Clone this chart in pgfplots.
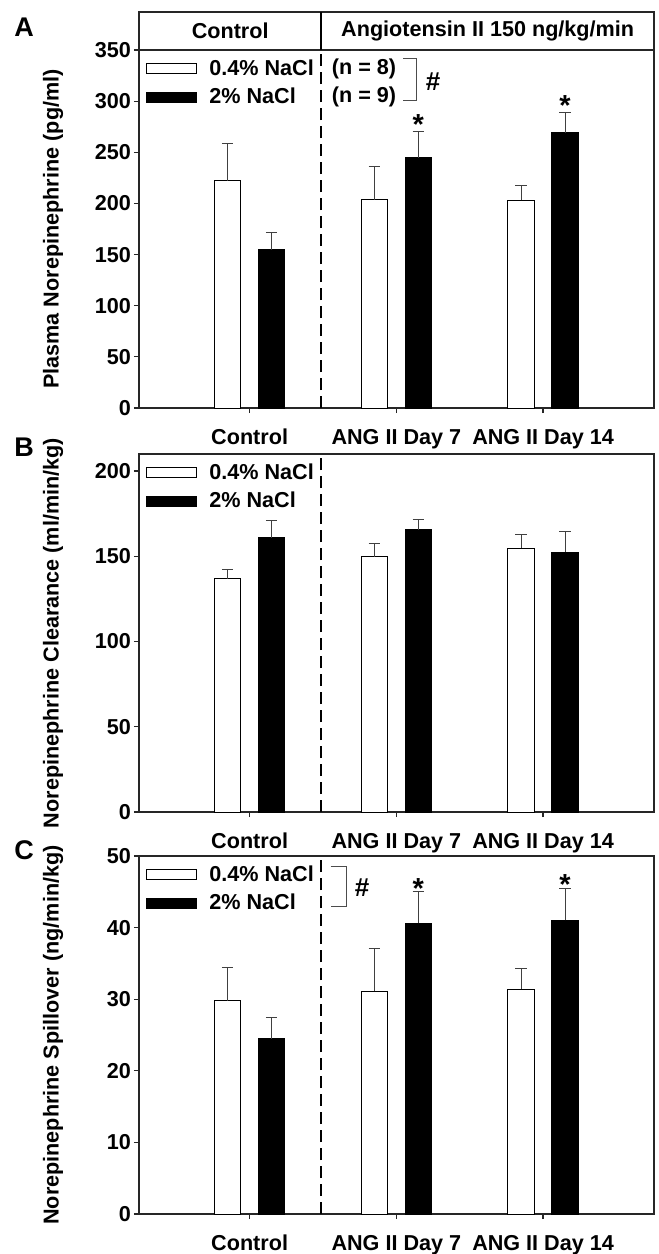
\documentclass[border=0pt]{standalone}
\usepackage{fontspec}
\setmainfont{Liberation Sans}
\usepackage{pgfplots}
\pgfplotsset{compat=1.18}

\newcommand\fs{\fontsize{10.8}{13}\selectfont\bfseries}

% bar centre, mean, SEM (categories at 0, 1, 2; white bars left, black bars right)
% Plasma norepinephrine (pg/ml)
\pgfplotstableread{
x y ey
-0.15 222   37
0.85  203.5 32.5
1.85  203   14.5
}\Awhite
\pgfplotstableread{
x y ey
0.15 154.6 17.4
1.15 244.6 25.4
2.15 269   20
}\Ablack
% Norepinephrine clearance (ml/min/kg)
\pgfplotstableread{
x y ey
-0.15 136.7 5.8
0.85  149.6 7.8
1.85  154.8 8
}\Bwhite
\pgfplotstableread{
x y ey
0.15 161   10
1.15 165.5 6.2
2.15 152.5 12.3
}\Bblack
% Norepinephrine spillover (ng/min/kg)
\pgfplotstableread{
x y ey
-0.15 29.8 4.6
0.85  31.1 6.0
1.85  31.4 2.9
}\Cwhite
\pgfplotstableread{
x y ey
0.15 24.5 2.9
1.15 40.6 4.4
2.15 41.0 4.5
}\Cblack

\tikzset{
  divider/.style={line width=1pt, dash pattern=on 6pt off 3pt},
  sigstar/.style={font=\fontsize{14.5}{16}\selectfont\bfseries, anchor=south, inner sep=0pt},
  hash/.style={font=\fontsize{13}{15}\selectfont\bfseries},
}

\pgfplotsset{
  panel/.style={
    scale only axis, width=257.5pt, height=179pt,
    xmin=-0.754, xmax=2.756, ymin=0,
    xtick={0,1,2},
    xticklabels={Control, ANG II Day 7, ANG II Day 14},
    tick align=outside, tick pos=left, major tick length=2.5pt,
    axis line style={black!85, line width=0.6pt},
    every tick/.style={black!85, line width=0.6pt},
    tick label style={font=\fs},
    /pgf/number format/assume math mode=true,
    xticklabel style={yshift=-4.5pt},
    yticklabel style={xshift=2pt},
    every axis y label/.style={at={(axis description cs:-0.167,0.5)}, rotate=90,
      anchor=center, font=\fs},
    legend style={draw=none, fill=none, at={(axis description cs:0.0136,0.975)},
      anchor=north west, font=\fs, inner sep=0pt, row sep=5pt,
      nodes={inner sep=0pt}},
    legend cell align=left,
    clip=false,
  },
  barbase/.style={ybar, bar width=0.18, bar shift=0pt, draw=black, line width=0.5pt,
    error bars/y dir=plus, error bars/y explicit,
    error bars/error bar style={black!75, line width=0.5pt},
    error bars/error mark options={black!75, mark size=2.85pt, line width=0.5pt, rotate=90}},
  whitebar/.style={barbase, fill=white,
    legend image code/.code={\draw[fill=white, draw=black, line width=0.5pt] (0pt,-2.5pt) rectangle (25pt,2.5pt); \path (31pt,0pt);}},
  blackbar/.style={barbase, fill=black,
    legend image code/.code={\draw[fill=black, draw=black, line width=0.5pt] (0pt,-2.5pt) rectangle (25pt,2.5pt); \path (31pt,0pt);}},
}

\begin{document}
\begin{tikzpicture}
\useasboundingbox (0,0) rectangle (329.5pt,-627pt);

% ---------- A ----------
\begin{axis}[panel, at={(69.5pt,-204pt)}, anchor=south west,
  ymax=350, ytick={0,50,...,350},
  ylabel={Plasma Norepinephrine (pg/ml)}]
\addplot[whitebar] table[x=x, y=y, y error=ey] {\Awhite};
\addlegendentry{0.4\% NaCl}
\addplot[blackbar] table[x=x, y=y, y error=ey] {\Ablack};
\addlegendentry{2\% NaCl}
\draw[divider] (axis cs:0.487,0) -- (axis cs:0.487,350);
% header
\draw[black!85, line width=0.6pt] (rel axis cs:0,1) -- ([yshift=19pt]rel axis cs:0,1)
  -- ([yshift=19pt]rel axis cs:1,1) -- (rel axis cs:1,1);
\draw[line width=1pt] (axis cs:0.487,350) -- ([yshift=19pt]axis cs:0.487,350);
\node[font=\fs, yshift=9.5pt] at (rel axis cs:0.177,1) {Control};
\node[font=\fs, yshift=9.5pt] at (rel axis cs:0.677,1) {Angiotensin II 150 ng/kg/min};
% group sizes and significance
\node[font=\fs] at (axis cs:0.78,331.4) {(n = 8)};
\node[font=\fs] at (axis cs:0.78,304) {(n = 9)};
\draw[black!70, line width=0.5pt] (axis cs:1.046,342) -- (axis cs:1.134,342)
  -- (axis cs:1.134,301) -- (axis cs:1.046,301);
\node[hash] at (axis cs:1.25,319) {\#};
\node[sigstar, yshift=-1.5pt] at (axis cs:1.15,270) {*};
\node[sigstar, yshift=-1.5pt] at (axis cs:2.15,289) {*};
\end{axis}

% ---------- B ----------
\begin{axis}[panel, at={(69.5pt,-406pt)}, anchor=south west,
  ymax=210, ytick={0,50,...,200},
  ylabel={Norepinephrine Clearance (ml/min/kg)}]
\addplot[whitebar] table[x=x, y=y, y error=ey] {\Bwhite};
\addlegendentry{0.4\% NaCl}
\addplot[blackbar] table[x=x, y=y, y error=ey] {\Bblack};
\addlegendentry{2\% NaCl}
\draw[divider] (axis cs:0.487,0) -- (axis cs:0.487,210);
\end{axis}

% ---------- C ----------
\begin{axis}[panel, at={(69.5pt,-607pt)}, anchor=south west,
  ymax=50, ytick={0,10,...,50},
  ylabel={Norepinephrine Spillover (ng/min/kg)}]
\addplot[whitebar] table[x=x, y=y, y error=ey] {\Cwhite};
\addlegendentry{0.4\% NaCl}
\addplot[blackbar] table[x=x, y=y, y error=ey] {\Cblack};
\addlegendentry{2\% NaCl}
\draw[divider] (axis cs:0.487,0) -- (axis cs:0.487,50);
\draw[black!70, line width=0.5pt] (axis cs:0.552,48.6) -- (axis cs:0.661,48.6)
  -- (axis cs:0.661,42.9) -- (axis cs:0.552,42.9);
\node[hash] at (axis cs:0.766,45.6) {\#};
\node[sigstar, yshift=-3.3pt] at (axis cs:1.15,45.0) {*};
\node[sigstar, yshift=-3.3pt] at (axis cs:2.15,45.5) {*};
\end{axis}

% panel letters
\node[font=\fontsize{13.5}{15}\selectfont\bfseries] at (12pt,-13.5pt) {A};
\node[font=\fontsize{13.5}{15}\selectfont\bfseries] at (12pt,-223.5pt) {B};
\node[font=\fontsize{13.5}{15}\selectfont\bfseries] at (12pt,-425pt) {C};
\end{tikzpicture}
\end{document}
